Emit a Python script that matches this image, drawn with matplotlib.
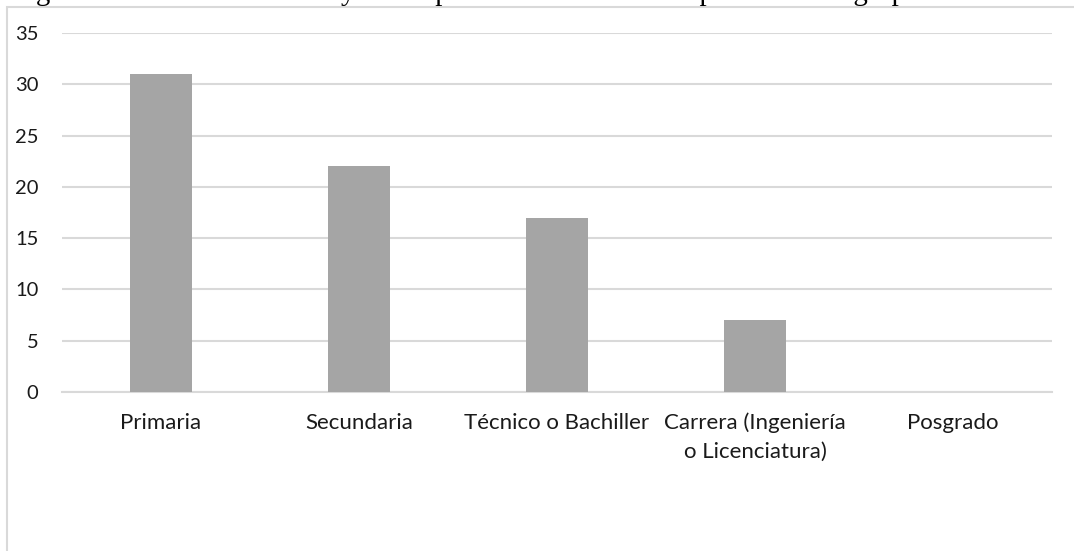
import matplotlib.pyplot as plt
from matplotlib.patches import Rectangle

# datos de escolaridad
categorias = ["Primaria", "Secundaria", "Técnico o Bachiller",
              "Carrera (Ingeniería\no Licenciatura)", "Posgrado"]
valores = [31, 22, 17, 7, 0]
ticks_y = [0, 5, 10, 15, 20, 25, 30, 35]

titulo = "Figura 1. Escolaridad de los y las responsables de unidades productivas agropecuarias."

W, H = 1074, 551
fig = plt.figure(figsize=(W / 100, H / 100), dpi=100)
fig.patch.set_facecolor("white")

# marco del gráfico (borde gris claro, cortado a la derecha y abajo)
fig.patches.append(Rectangle((7 / W, -0.1), 1.2, 1 - 7 / H + 0.1,
                             transform=fig.transFigure, fill=False,
                             edgecolor="#d9d9d9", linewidth=1.5))

# título cortado por el borde superior
fig.text(12 / W, 1.0, titulo, family="Liberation Serif", fontsize=20.7,
         va="baseline", ha="left", color="black")

ax = fig.add_axes([62 / W, 1 - 392 / H, (1052 - 62) / W, (392 - 33) / H])
x = range(len(categorias))
ax.bar(x, valores, width=0.313, color="#a5a5a5", zorder=3)

ax.set_xlim(-0.5, len(categorias) - 0.5)
ax.set_ylim(0, 35)
ax.set_yticks(ticks_y)
ax.set_xticks(list(x))
ax.set_xticklabels(categorias)

ax.grid(axis="y", color="#d9d9d9", linewidth=1.5, zorder=0)
for s in ["top", "right", "left"]:
    ax.spines[s].set_visible(False)
ax.spines["bottom"].set_color("#d9d9d9")
ax.spines["bottom"].set_linewidth(1.5)
ax.tick_params(length=0)
ax.tick_params(axis="y", pad=17)
ax.tick_params(axis="x", pad=15)

for lab in ax.get_yticklabels():
    lab.set_family("Lato")
    lab.set_fontsize(14.5)
    lab.set_color("#1a1a1a")
for lab in ax.get_xticklabels():
    lab.set_family("Lato")
    lab.set_fontsize(16)
    lab.set_color("#1a1a1a")
    lab.set_linespacing(1.55)
    lab.set_verticalalignment("top")

fig.savefig("out.png", dpi=100)
